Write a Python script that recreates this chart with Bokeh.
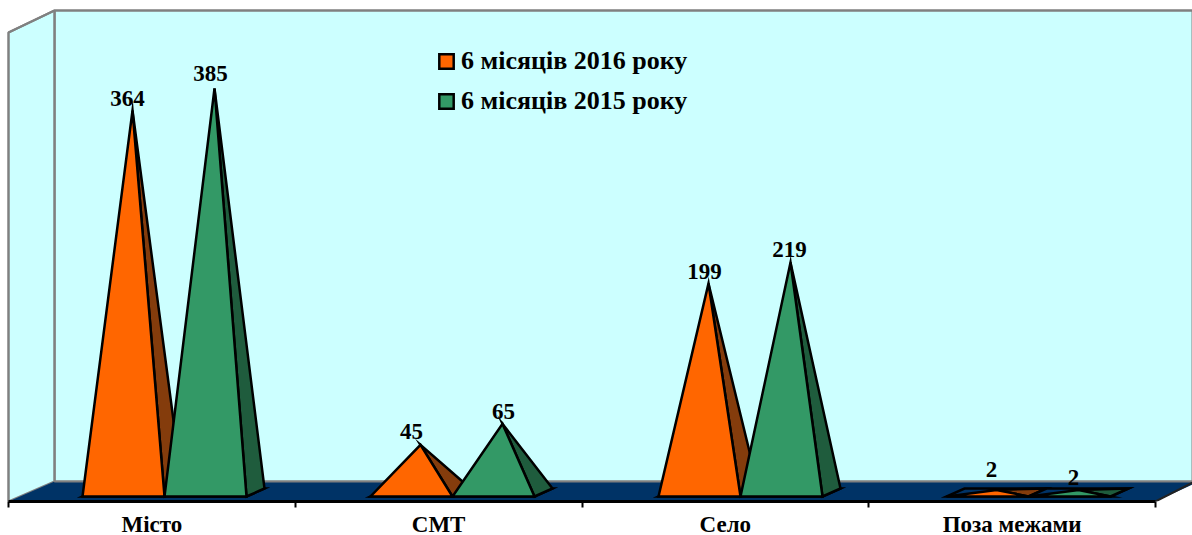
from bokeh.plotting import figure
from bokeh.models import Range1d, LinearAxis, FixedTicker, Legend, LegendItem, ColumnDataSource
from bokeh.core.properties import value
from bokeh.embed import file_html
from bokeh.resources import INLINE

categories = ["Місто", "СМТ", "Село", "Поза межами"]
series_2016 = [364, 45, 199, 2]
series_2015 = [385, 65, 219, 2]
name_2016 = "6 місяців 2016 року"
name_2015 = "6 місяців 2015 року"

FONT = "Liberation Serif"
PX_X = 286.75          # pixels per category
PX_Y = 1.048           # pixels per unit of value
FW, FH = 1192, 501     # plot frame
ZERO_UP = 9.5          # pixels from frame bottom to value 0
LEFT = 8               # pixels from frame left to category 0
x0, x1 = -LEFT / PX_X, (FW - LEFT) / PX_X
y0, y1 = -ZERO_UP / PX_Y, (FH - ZERO_UP) / PX_Y

def dx(px): return px / PX_X
def dy(px): return px / PX_Y

p = figure(width=1192, height=535, frame_width=FW, frame_height=FH,
           x_range=Range1d(x0, x1), y_range=Range1d(y0, y1),
           output_backend="svg", toolbar_location=None,
           x_axis_type=None, y_axis_type=None,
           min_border=0, min_border_left=0, min_border_right=0,
           min_border_top=0, outline_line_color=None)
p.grid.visible = False

# 3D walls and floor
WALL, GREY, FLOOR = "#CCFFFF", "#808080", "#003366"
bx, fy, by = dx(46), y0, y0 + dy(20)
top_back, top_front = y1 - dy(10), y1 - dy(32)
p.patch([bx, x1, x1, bx], [by, by, top_back, top_back], fill_color=WALL, line_color=GREY, line_width=2)
p.patch([0, bx, bx, 0], [fy, by, top_back, top_front], fill_color=WALL, line_color=GREY, line_width=2)
p.patch([0, bx, x1, x1, 4], [fy, by, by, by - dy(3), fy], fill_color=FLOOR, line_color=None)
p.line([0, 0, bx, x1], [fy, top_front, top_back, top_back], line_color=GREY, line_width=2)
p.line([bx, bx, x1], [top_back, by, by], line_color=GREY, line_width=2)
p.line([4, x1], [fy, by - dy(1)], line_color="#222222", line_width=2)

# pyramids
HALF, DEPTH_X, DEPTH_Y, BASE_Y = dx(82), dx(18), dy(8), dy(-4.5)
START, STEP = dx(156), dx(288)

def draw(values, shift, col, dark):
    base_x, base_y, side_x, side_y, front_x, front_y = [], [], [], [], [], []
    apex_x, apex_y = [], []
    for i, v in enumerate(values):
        l = START + STEP * i + shift
        r = l + HALF
        ax, ay = (l + r) / 2 + DEPTH_X / 2, v
        apex_x.append(ax); apex_y.append(ay)
        base_x.append([l, r, r + DEPTH_X, l + DEPTH_X])
        base_y.append([BASE_Y, BASE_Y, BASE_Y + DEPTH_Y, BASE_Y + DEPTH_Y])
        side_x.append([r, r + DEPTH_X, ax])
        side_y.append([BASE_Y, BASE_Y + DEPTH_Y, ay])
        front_x.append([l, r, ax])
        front_y.append([BASE_Y, BASE_Y, ay])
    style = dict(line_color="black", line_width=2.5, line_join="miter")
    p.patches(base_x, base_y, fill_color=FLOOR, **style)
    p.patches(side_x, side_y, fill_color=dark, **style)
    front = p.patches(front_x, front_y, fill_color=col, **style)
    return front, apex_x, apex_y

f16, ax16, ay16 = draw(series_2016, dx(-82), "#FF6600", "#843C0C")
f15, ax15, ay15 = draw(series_2015, dx(0), "#339966", "#1F5C3D")

# data labels
label_dx_16 = [-5, -9, -4, -5]
label_dy_16 = [12, 13, 12, 20]
label_dx_15 = [-4, 1, -1, -5]
label_dy_15 = [15, 12, 13, 12]
src = ColumnDataSource(dict(
    x=ax16 + ax15, y=ay16 + ay15,
    t=[str(v) for v in series_2016 + series_2015],
    xo=label_dx_16 + label_dx_15,
    yo=[-d for d in label_dy_16 + label_dy_15]))
p.text("x", "y", text="t", source=src, x_offset="xo", y_offset="yo",
       text_font=value(FONT), text_font_style="bold", text_font_size="23px",
       text_align="center", text_baseline="alphabetic", text_color="black")

# legend
legend = Legend(items=[LegendItem(label=name_2016, renderers=[f16]),
                       LegendItem(label=name_2015, renderers=[f15])],
                location=(437, 385), orientation="vertical",
                background_fill_alpha=0, border_line_color=None,
                glyph_width=18, glyph_height=18, spacing=10,
                label_text_font=FONT, label_text_font_style="bold",
                label_text_font_size="26px", label_text_color="black",
                label_standoff=6, padding=6, margin=0)
p.add_layout(legend, "center")

# category axis
axis = LinearAxis(ticker=FixedTicker(ticks=[0.5, 1.5, 2.5, 3.5], minor_ticks=[0, 1, 2, 3, 4]),
                  bounds=(0, 4),
                  major_label_overrides={i + 0.5: c for i, c in enumerate(categories)},
                  axis_line_color="black", axis_line_width=3,
                  major_tick_line_color=None, major_tick_in=0, major_tick_out=0,
                  minor_tick_line_color="black", minor_tick_line_width=2,
                  minor_tick_in=0, minor_tick_out=6,
                  major_label_standoff=4,
                  major_label_text_font=FONT, major_label_text_font_style="bold",
                  major_label_text_font_size="23px", major_label_text_color="black")
p.add_layout(axis, "below")

open("out.html", "w").write(file_html(p, INLINE))
